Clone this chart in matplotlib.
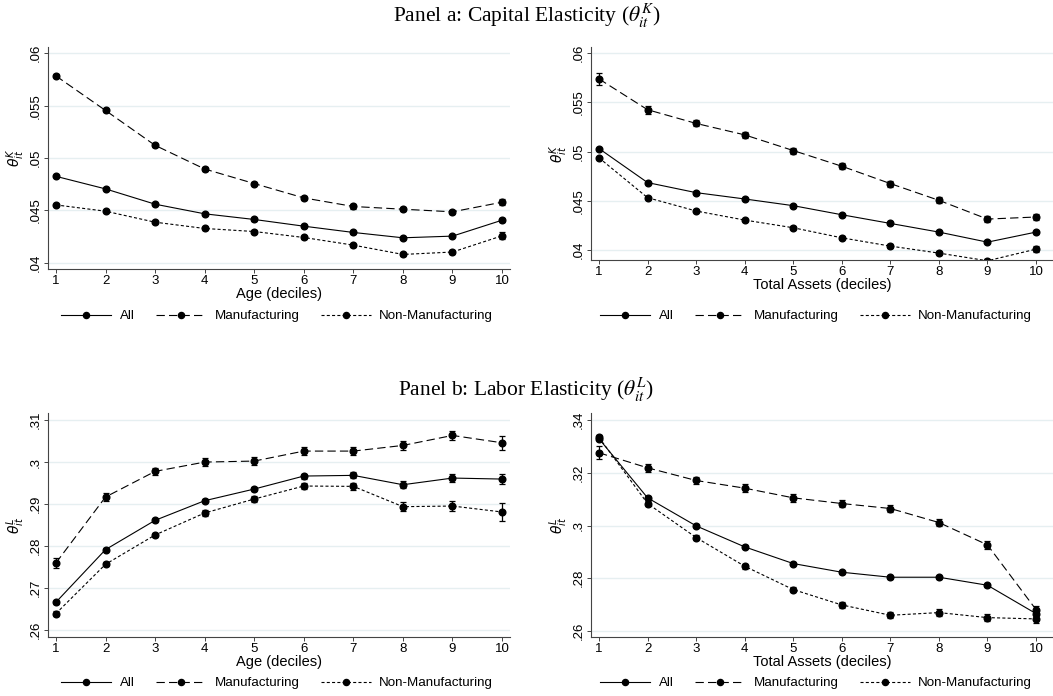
import numpy as np
import matplotlib
matplotlib.use('Agg')
from matplotlib import pyplot as plt

plt.rcParams['font.family'] = ['Liberation Sans', 'DejaVu Sans']
plt.rcParams['lines.scale_dashes'] = False

deciles = [1, 2, 3, 4, 5, 6, 7, 8, 9, 10]
series_names = ['All', 'Manufacturing', 'Non-Manufacturing']

# Panel a, left: capital elasticity by age decile
k_age_all = [0.04825, 0.04705, 0.04559, 0.04467, 0.04413, 0.04349, 0.04289, 0.04238, 0.04254, 0.04406]
k_age_all_err = [0.0001, 0.0001, 0.0001, 0.0001, 0.0001, 0.0001, 0.0001, 0.0001, 0.00012, 0.0002]
k_age_man = [0.05784, 0.05454, 0.05121, 0.04895, 0.04756, 0.04619, 0.04537, 0.04511, 0.04486, 0.04578]
k_age_man_err = [0.00015, 0.00013, 0.00013, 0.00015, 0.00015, 0.00017, 0.0002, 0.0002, 0.00022, 0.0003]
k_age_non = [0.04552, 0.04492, 0.04387, 0.04327, 0.04298, 0.04241, 0.04168, 0.04079, 0.04102, 0.04257]
k_age_non_err = [0.0001, 0.0001, 0.0001, 0.0001, 0.0001, 0.00012, 0.00015, 0.00017, 0.0002, 0.00033]

# Panel a, right: capital elasticity by total-assets decile
k_ta_all = [0.0503, 0.04685, 0.04583, 0.04519, 0.04451, 0.04359, 0.04271, 0.04183, 0.04081, 0.04183]
k_ta_all_err = [0.0001, 0.0001, 0.0001, 0.0001, 0.0001, 0.0001, 0.0001, 0.0001, 0.0001, 0.00015]
k_ta_man = [0.05736, 0.05424, 0.05285, 0.05169, 0.0501, 0.04851, 0.04675, 0.04505, 0.04315, 0.04336]
k_ta_man_err = [0.0006, 0.0004, 0.0003, 0.0003, 0.0003, 0.0003, 0.0003, 0.0003, 0.0003, 0.0003]
k_ta_non = [0.04936, 0.04532, 0.04397, 0.04305, 0.04227, 0.04125, 0.04041, 0.0397, 0.03892, 0.0401]
k_ta_non_err = [0.0001, 0.0001, 0.00012, 0.00012, 0.00015, 0.00015, 0.00017, 0.0002, 0.0002, 0.0003]

# Panel b, left: labor elasticity by age decile
l_age_all = [0.26659, 0.27913, 0.28611, 0.29079, 0.29357, 0.29667, 0.29683, 0.2946, 0.29619, 0.29595]
l_age_all_err = [0.0004, 0.0004, 0.0004, 0.0004, 0.0005, 0.0006, 0.0007, 0.0008, 0.0009, 0.0011]
l_age_man = [0.27595, 0.29167, 0.29778, 0.3, 0.30024, 0.30262, 0.30262, 0.30397, 0.30635, 0.3046]
l_age_man_err = [0.0013, 0.0009, 0.0008, 0.0009, 0.0009, 0.0009, 0.0009, 0.001, 0.0011, 0.0017]
l_age_non = [0.26389, 0.27563, 0.28262, 0.28786, 0.29119, 0.29429, 0.29421, 0.28937, 0.28952, 0.2881]
l_age_non_err = [0.0005, 0.0005, 0.0005, 0.0006, 0.0007, 0.0008, 0.0009, 0.0011, 0.0013, 0.0022]

# Panel b, right: labor elasticity by total-assets decile
l_ta_all = [0.33291, 0.31051, 0.29987, 0.2919, 0.28557, 0.28228, 0.28038, 0.28038, 0.27734, 0.26658]
l_ta_all_err = [0.0006, 0.0006, 0.0006, 0.0006, 0.0006, 0.0006, 0.0006, 0.0006, 0.0006, 0.0006]
l_ta_man = [0.3276, 0.3219, 0.31709, 0.31418, 0.31051, 0.30835, 0.30646, 0.30114, 0.29266, 0.2681]
l_ta_man_err = [0.0024, 0.0016, 0.0015, 0.0014, 0.0014, 0.0012, 0.0013, 0.0013, 0.0014, 0.0013]
l_ta_non = [0.33342, 0.30835, 0.29544, 0.28456, 0.2757, 0.26987, 0.26595, 0.26696, 0.26506, 0.26456]
l_ta_non_err = [0.0008, 0.0008, 0.0008, 0.0009, 0.001, 0.001, 0.0011, 0.0012, 0.0013, 0.0014]

k_ticks = [0.04, 0.045, 0.05, 0.055, 0.06]
k_ticklabels = ['.04', '.045', '.05', '.055', '.06']
l_age_ticks = [0.26, 0.27, 0.28, 0.29, 0.30, 0.31]
l_age_ticklabels = ['.26', '.27', '.28', '.29', '.3', '.31']
l_ta_ticks = [0.26, 0.28, 0.30, 0.32, 0.34]
l_ta_ticklabels = ['.26', '.28', '.3', '.32', '.34']

W, H = 1053, 696
fig = plt.figure(figsize=(W / 100, H / 100), dpi=100)

styles = [dict(ls='-'), dict(dashes=(6, 3)), dict(dashes=(2.2, 1.6))]
grid_col = '#e6eff1'


def px_axes(left, right, top, bottom):
    return fig.add_axes([left / W, 1 - bottom / H, (right - left) / W, (bottom - top) / H])


def panel(ax, series, errs, xlabel, ylabel, ticks, ticklabels, ylim, xlim):
    for ys, es, st in zip(series, errs, styles):
        ax.errorbar(deciles, ys, yerr=es, color='black', lw=0.8, marker='o', ms=4.8,
                    capsize=2.4, elinewidth=0.9, capthick=0.9, **st)
    ax.set_xlim(*xlim)
    ax.set_ylim(*ylim)
    ax.set_xticks(deciles)
    ax.set_yticks(ticks)
    ax.set_yticklabels(ticklabels, rotation=90, va='center')
    for t in ticks:
        ax.axhline(t, color=grid_col, lw=1.0, zorder=0)
    for s in ['top', 'right']:
        ax.spines[s].set_visible(False)
    for s in ['left', 'bottom']:
        ax.spines[s].set_color('#444444')
        ax.spines[s].set_linewidth(0.8)
    ax.tick_params(labelsize=9.5, length=3, width=0.7, color='#444444', pad=1.5)
    ax.set_xlabel(xlabel, fontsize=10.5, labelpad=0)
    ax.set_ylabel(ylabel, fontsize=10, labelpad=2, math_fontfamily='dejavusans')


def legend_below(ax, y_px, cx_px):
    handles = []
    for name, st in zip(series_names, styles):
        h, = ax.plot([], [], color='black', lw=0.8, marker='o', ms=4.4, label=name, **st)
        handles.append(h)
    fig.legend(handles=handles, loc='center', bbox_to_anchor=(cx_px / W, 1 - y_px / H),
               ncol=3, frameon=False, fontsize=9.6, handlelength=3.75, handletextpad=0.65,
               columnspacing=1.6, numpoints=1)


ax1 = px_axes(48, 510, 47, 269)
panel(ax1, [k_age_all, k_age_man, k_age_non], [k_age_all_err, k_age_man_err, k_age_non_err],
      'Age (deciles)', r'$\theta^{K}_{it}$', k_ticks, k_ticklabels, (0.0394, 0.0606), (0.84, 10.16))
legend_below(ax1, 316, 277)

ax2 = px_axes(591, 1053, 47, 260)
panel(ax2, [k_ta_all, k_ta_man, k_ta_non], [k_ta_all_err, k_ta_man_err, k_ta_non_err],
      'Total Assets (deciles)', r'$\theta^{K}_{it}$', k_ticks, k_ticklabels, (0.0390, 0.0606), (0.835, 10.35))
legend_below(ax2, 316, 816)

ax3 = px_axes(48, 510, 413, 637)
panel(ax3, [l_age_all, l_age_man, l_age_non], [l_age_all_err, l_age_man_err, l_age_non_err],
      'Age (deciles)', r'$\theta^{L}_{it}$', l_age_ticks, l_age_ticklabels, (0.2583, 0.3117), (0.84, 10.16))
legend_below(ax3, 683, 277)

ax4 = px_axes(591, 1053, 413, 637)
panel(ax4, [l_ta_all, l_ta_man, l_ta_non], [l_ta_all_err, l_ta_man_err, l_ta_non_err],
      'Total Assets (deciles)', r'$\theta^{L}_{it}$', l_ta_ticks, l_ta_ticklabels, (0.2577, 0.3427), (0.835, 10.35))
legend_below(ax4, 683, 816)

fig.text(0.5, 1 - 16 / H, r'Panel a: Capital Elasticity ($\theta_{it}^{K}$)', ha='center', va='center',
         fontsize=15.5, family='Liberation Serif', math_fontfamily='stix')
fig.text(0.5, 1 - 390 / H, r'Panel b: Labor Elasticity ($\theta_{it}^{L}$)', ha='center', va='center',
         fontsize=15.5, family='Liberation Serif', math_fontfamily='stix')

fig.savefig('out.png', dpi=100, facecolor='white')
